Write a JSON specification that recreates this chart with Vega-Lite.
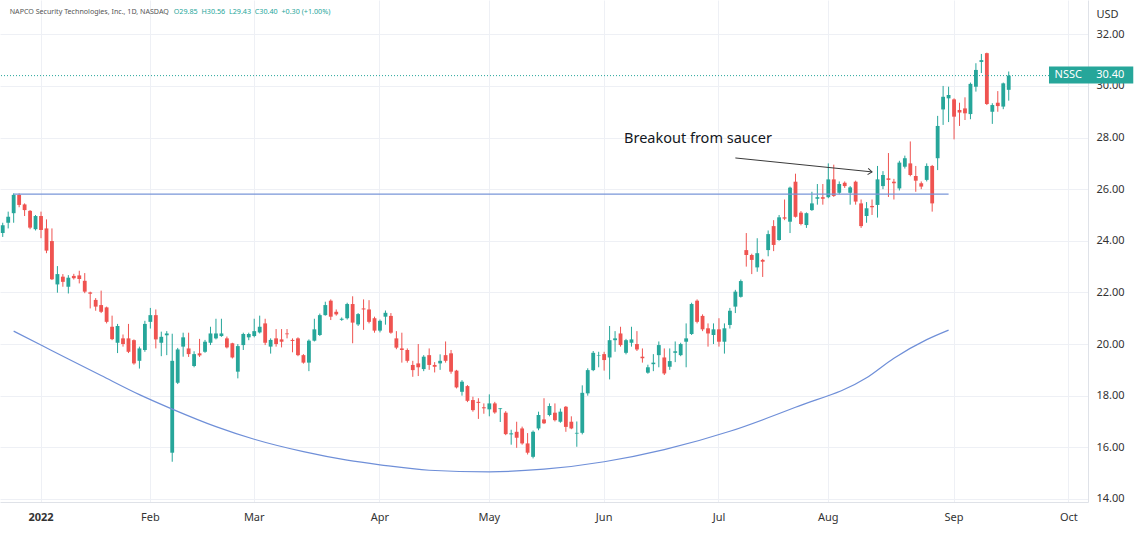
{
  "$schema": "https://vega.github.io/schema/vega-lite/v6.json",
  "width": 1088,
  "height": 502,
  "autosize": {"type": "none"},
  "padding": {"left": 0, "top": 0, "right": 51, "bottom": 32},
  "background": "white",
  "config": {"view": {"stroke": null}, "font": "Noto Sans"},
  "datasets": {
    "candles": [
      {"date":"2021-12-22","open":24.3,"high":24.7,"low":24.15,"close":24.6},
      {"date":"2021-12-23","open":24.7,"high":25.13,"low":24.48,"close":24.93},
      {"date":"2021-12-27","open":25.07,"high":25.84,"low":24.7,"close":25.78},
      {"date":"2021-12-28","open":25.78,"high":25.84,"low":25.3,"close":25.39},
      {"date":"2021-12-29","open":25.41,"high":25.45,"low":24.96,"close":25.19},
      {"date":"2021-12-30","open":25.16,"high":25.19,"low":24.45,"close":24.51},
      {"date":"2021-12-31","open":24.45,"high":25.0,"low":24.4,"close":24.96},
      {"date":"2022-01-03","open":24.96,"high":25.13,"low":24.1,"close":24.42},
      {"date":"2022-01-04","open":24.48,"high":24.83,"low":23.52,"close":23.62},
      {"date":"2022-01-05","open":23.99,"high":24.48,"low":22.48,"close":22.51},
      {"date":"2022-01-06","open":22.31,"high":23.02,"low":21.99,"close":22.71},
      {"date":"2022-01-07","open":22.61,"high":22.71,"low":22.22,"close":22.41},
      {"date":"2022-01-10","open":22.22,"high":22.67,"low":21.96,"close":22.57},
      {"date":"2022-01-11","open":22.64,"high":22.72,"low":22.5,"close":22.55},
      {"date":"2022-01-12","open":22.66,"high":22.84,"low":22.35,"close":22.52},
      {"date":"2022-01-13","open":22.45,"high":22.75,"low":21.97,"close":22.03},
      {"date":"2022-01-14","open":22.0,"high":22.03,"low":21.38,"close":21.95},
      {"date":"2022-01-18","open":21.71,"high":21.78,"low":21.29,"close":21.45},
      {"date":"2022-01-19","open":21.51,"high":22.07,"low":21.2,"close":21.25},
      {"date":"2022-01-20","open":21.42,"high":21.45,"low":20.8,"close":20.86},
      {"date":"2022-01-21","open":20.67,"high":21.1,"low":20.15,"close":20.19},
      {"date":"2022-01-24","open":20.05,"high":20.78,"low":19.65,"close":20.7},
      {"date":"2022-01-25","open":20.22,"high":20.37,"low":19.9,"close":20.0},
      {"date":"2022-01-26","open":20.22,"high":20.78,"low":19.65,"close":19.7},
      {"date":"2022-01-27","open":20.15,"high":20.18,"low":19.2,"close":19.25},
      {"date":"2022-01-28","open":19.35,"high":19.9,"low":19.05,"close":19.83},
      {"date":"2022-01-31","open":19.77,"high":20.9,"low":19.7,"close":20.78},
      {"date":"2022-02-01","open":20.86,"high":21.4,"low":20.6,"close":21.12},
      {"date":"2022-02-02","open":21.12,"high":21.34,"low":19.83,"close":20.18},
      {"date":"2022-02-03","open":20.05,"high":20.48,"low":19.53,"close":20.28},
      {"date":"2022-02-04","open":20.34,"high":20.5,"low":19.57,"close":20.41},
      {"date":"2022-02-07","open":15.79,"high":20.4,"low":15.44,"close":19.35},
      {"date":"2022-02-08","open":18.5,"high":19.85,"low":18.45,"close":19.79},
      {"date":"2022-02-09","open":19.9,"high":20.44,"low":19.51,"close":20.26},
      {"date":"2022-02-10","open":19.83,"high":20.44,"low":19.5,"close":19.61},
      {"date":"2022-02-11","open":19.15,"high":19.72,"low":19.1,"close":19.61},
      {"date":"2022-02-14","open":19.64,"high":20.2,"low":19.5,"close":19.56},
      {"date":"2022-02-15","open":19.7,"high":20.16,"low":19.66,"close":20.09},
      {"date":"2022-02-16","open":20.05,"high":20.67,"low":19.96,"close":20.41},
      {"date":"2022-02-17","open":20.22,"high":20.98,"low":20.18,"close":20.41},
      {"date":"2022-02-18","open":20.31,"high":20.98,"low":20.28,"close":20.41},
      {"date":"2022-02-22","open":20.22,"high":20.29,"low":19.83,"close":19.87},
      {"date":"2022-02-23","open":20.03,"high":20.05,"low":19.44,"close":19.48},
      {"date":"2022-02-24","open":18.93,"high":20.0,"low":18.67,"close":19.92},
      {"date":"2022-02-25","open":19.96,"high":20.44,"low":19.77,"close":20.39},
      {"date":"2022-02-28","open":20.26,"high":20.44,"low":20.15,"close":20.39},
      {"date":"2022-03-01","open":20.31,"high":20.98,"low":20.26,"close":20.5},
      {"date":"2022-03-02","open":20.45,"high":21.1,"low":20.41,"close":20.67},
      {"date":"2022-03-03","open":20.8,"high":20.98,"low":19.96,"close":20.05},
      {"date":"2022-03-04","open":19.9,"high":20.22,"low":19.63,"close":20.16},
      {"date":"2022-03-07","open":20.22,"high":20.58,"low":19.9,"close":20.0},
      {"date":"2022-03-08","open":20.18,"high":20.58,"low":19.87,"close":20.09},
      {"date":"2022-03-09","open":20.41,"high":20.58,"low":20.22,"close":20.38},
      {"date":"2022-03-10","open":20.16,"high":20.22,"low":19.68,"close":20.12},
      {"date":"2022-03-11","open":20.22,"high":20.26,"low":19.53,"close":19.57},
      {"date":"2022-03-14","open":19.57,"high":19.61,"low":19.24,"close":19.28},
      {"date":"2022-03-15","open":19.28,"high":20.18,"low":18.95,"close":20.13},
      {"date":"2022-03-16","open":20.13,"high":20.98,"low":20.1,"close":20.57},
      {"date":"2022-03-17","open":20.35,"high":21.18,"low":20.31,"close":21.12},
      {"date":"2022-03-18","open":21.12,"high":21.64,"low":21.1,"close":21.51},
      {"date":"2022-03-21","open":21.68,"high":21.73,"low":20.93,"close":21.06},
      {"date":"2022-03-22","open":21.25,"high":21.34,"low":21.1,"close":21.15},
      {"date":"2022-03-23","open":20.94,"high":21.03,"low":20.9,"close":20.98},
      {"date":"2022-03-24","open":21.0,"high":21.6,"low":20.95,"close":21.55},
      {"date":"2022-03-25","open":21.55,"high":21.85,"low":20.03,"close":20.83},
      {"date":"2022-03-28","open":20.76,"high":21.2,"low":20.7,"close":21.16},
      {"date":"2022-03-29","open":21.38,"high":21.73,"low":20.55,"close":21.34},
      {"date":"2022-03-30","open":21.34,"high":21.7,"low":20.8,"close":20.86},
      {"date":"2022-03-31","open":21.0,"high":21.06,"low":20.44,"close":20.52},
      {"date":"2022-04-01","open":20.52,"high":20.95,"low":20.45,"close":20.9},
      {"date":"2022-04-04","open":21.06,"high":21.3,"low":20.75,"close":21.21},
      {"date":"2022-04-05","open":21.09,"high":21.2,"low":20.4,"close":20.44},
      {"date":"2022-04-06","open":20.22,"high":20.5,"low":19.8,"close":19.86},
      {"date":"2022-04-07","open":19.83,"high":20.44,"low":19.28,"close":19.77},
      {"date":"2022-04-08","open":19.77,"high":19.83,"low":19.28,"close":19.35},
      {"date":"2022-04-11","open":19.19,"high":19.35,"low":18.73,"close":18.99},
      {"date":"2022-04-12","open":19.25,"high":20.0,"low":18.76,"close":19.1},
      {"date":"2022-04-13","open":19.03,"high":19.57,"low":18.95,"close":19.51},
      {"date":"2022-04-14","open":19.57,"high":19.83,"low":19.0,"close":19.19},
      {"date":"2022-04-18","open":19.19,"high":19.3,"low":18.9,"close":19.12},
      {"date":"2022-04-19","open":19.25,"high":19.6,"low":19.0,"close":19.35},
      {"date":"2022-04-20","open":19.57,"high":20.1,"low":19.28,"close":19.35},
      {"date":"2022-04-21","open":19.64,"high":19.77,"low":18.85,"close":18.93},
      {"date":"2022-04-22","open":18.97,"high":19.0,"low":18.28,"close":18.32},
      {"date":"2022-04-25","open":18.15,"high":18.6,"low":18.0,"close":18.54},
      {"date":"2022-04-26","open":18.37,"high":18.41,"low":17.75,"close":17.8},
      {"date":"2022-04-27","open":17.83,"high":17.96,"low":17.38,"close":17.44},
      {"date":"2022-04-28","open":17.76,"high":17.9,"low":17.1,"close":17.72},
      {"date":"2022-04-29","open":17.55,"high":17.7,"low":17.3,"close":17.51},
      {"date":"2022-05-02","open":17.47,"high":18.05,"low":17.2,"close":17.7},
      {"date":"2022-05-03","open":17.7,"high":17.76,"low":17.3,"close":17.35},
      {"date":"2022-05-04","open":17.48,"high":17.52,"low":16.98,"close":17.51},
      {"date":"2022-05-05","open":17.34,"high":17.4,"low":16.47,"close":16.51},
      {"date":"2022-05-06","open":16.5,"high":16.68,"low":16.1,"close":16.54},
      {"date":"2022-05-09","open":16.6,"high":16.99,"low":15.98,"close":16.37},
      {"date":"2022-05-10","open":16.73,"high":16.8,"low":16.1,"close":16.15},
      {"date":"2022-05-11","open":16.15,"high":16.55,"low":15.72,"close":15.79},
      {"date":"2022-05-12","open":15.63,"high":16.65,"low":15.57,"close":16.6},
      {"date":"2022-05-13","open":16.73,"high":17.38,"low":16.66,"close":17.25},
      {"date":"2022-05-16","open":17.08,"high":17.9,"low":16.9,"close":16.93},
      {"date":"2022-05-17","open":17.25,"high":17.7,"low":17.2,"close":17.6},
      {"date":"2022-05-18","open":17.34,"high":17.7,"low":17.0,"close":17.05},
      {"date":"2022-05-19","open":16.99,"high":17.5,"low":16.95,"close":17.38},
      {"date":"2022-05-20","open":17.57,"high":17.6,"low":16.6,"close":16.79},
      {"date":"2022-05-23","open":16.99,"high":17.2,"low":16.7,"close":16.73},
      {"date":"2022-05-24","open":16.53,"high":17.0,"low":16.02,"close":16.56},
      {"date":"2022-05-25","open":16.56,"high":18.4,"low":16.5,"close":18.11},
      {"date":"2022-05-26","open":18.09,"high":19.06,"low":18.0,"close":18.99},
      {"date":"2022-05-27","open":18.99,"high":19.73,"low":18.95,"close":19.66},
      {"date":"2022-05-31","open":19.55,"high":19.7,"low":19.1,"close":19.57},
      {"date":"2022-06-01","open":19.61,"high":19.7,"low":18.97,"close":19.38},
      {"date":"2022-06-02","open":19.48,"high":20.7,"low":18.63,"close":20.15},
      {"date":"2022-06-03","open":20.15,"high":20.5,"low":19.7,"close":20.22},
      {"date":"2022-06-06","open":20.41,"high":20.67,"low":19.9,"close":19.96},
      {"date":"2022-06-07","open":19.66,"high":20.2,"low":19.6,"close":20.15},
      {"date":"2022-06-08","open":20.05,"high":20.67,"low":19.9,"close":20.18},
      {"date":"2022-06-09","open":20.0,"high":20.5,"low":19.73,"close":19.79},
      {"date":"2022-06-10","open":19.51,"high":19.83,"low":19.28,"close":19.45},
      {"date":"2022-06-13","open":18.89,"high":19.2,"low":18.85,"close":19.1},
      {"date":"2022-06-14","open":19.22,"high":19.61,"low":18.95,"close":19.28},
      {"date":"2022-06-15","open":19.57,"high":20.1,"low":19.1,"close":19.96},
      {"date":"2022-06-16","open":19.48,"high":19.83,"low":18.8,"close":18.86},
      {"date":"2022-06-17","open":19.12,"high":19.83,"low":19.0,"close":19.34},
      {"date":"2022-06-21","open":19.66,"high":20.1,"low":19.3,"close":19.72},
      {"date":"2022-06-22","open":19.57,"high":20.05,"low":19.53,"close":20.0},
      {"date":"2022-06-23","open":20.09,"high":20.8,"low":19.1,"close":20.22},
      {"date":"2022-06-24","open":20.39,"high":21.6,"low":20.35,"close":21.55},
      {"date":"2022-06-27","open":21.68,"high":21.73,"low":20.8,"close":20.86},
      {"date":"2022-06-28","open":21.09,"high":21.15,"low":20.5,"close":20.57},
      {"date":"2022-06-29","open":20.61,"high":20.8,"low":19.9,"close":20.41},
      {"date":"2022-06-30","open":20.35,"high":20.8,"low":20.0,"close":20.57},
      {"date":"2022-07-01","open":20.57,"high":21.0,"low":19.9,"close":20.09},
      {"date":"2022-07-05","open":20.09,"high":20.8,"low":19.63,"close":20.61},
      {"date":"2022-07-06","open":20.74,"high":21.4,"low":20.6,"close":21.29},
      {"date":"2022-07-07","open":21.45,"high":22.1,"low":21.2,"close":22.03},
      {"date":"2022-07-08","open":21.83,"high":22.5,"low":21.8,"close":22.44},
      {"date":"2022-07-11","open":23.64,"high":24.3,"low":23.0,"close":23.45},
      {"date":"2022-07-12","open":23.45,"high":23.5,"low":22.71,"close":23.26},
      {"date":"2022-07-13","open":22.97,"high":24.1,"low":22.8,"close":23.52},
      {"date":"2022-07-14","open":23.26,"high":23.3,"low":22.6,"close":23.19},
      {"date":"2022-07-15","open":23.64,"high":24.4,"low":23.4,"close":24.26},
      {"date":"2022-07-18","open":24.57,"high":24.8,"low":23.6,"close":23.84},
      {"date":"2022-07-19","open":24.03,"high":25.0,"low":24.0,"close":24.91},
      {"date":"2022-07-20","open":24.91,"high":25.6,"low":24.8,"close":24.86},
      {"date":"2022-07-21","open":24.74,"high":26.1,"low":24.3,"close":26.06},
      {"date":"2022-07-22","open":26.29,"high":26.6,"low":24.9,"close":24.93},
      {"date":"2022-07-25","open":25.09,"high":25.15,"low":24.6,"close":24.65},
      {"date":"2022-07-26","open":24.61,"high":25.1,"low":24.5,"close":25.07},
      {"date":"2022-07-27","open":25.19,"high":25.9,"low":25.16,"close":25.45},
      {"date":"2022-07-28","open":25.63,"high":26.2,"low":25.4,"close":25.69},
      {"date":"2022-07-29","open":25.69,"high":26.2,"low":25.4,"close":25.63},
      {"date":"2022-08-01","open":25.69,"high":27.0,"low":25.65,"close":26.38},
      {"date":"2022-08-02","open":26.38,"high":26.95,"low":25.7,"close":25.74},
      {"date":"2022-08-03","open":25.86,"high":26.3,"low":25.8,"close":26.2},
      {"date":"2022-08-04","open":26.25,"high":26.3,"low":26.05,"close":26.12},
      {"date":"2022-08-05","open":25.86,"high":26.12,"low":25.4,"close":26.07},
      {"date":"2022-08-08","open":26.29,"high":26.33,"low":25.4,"close":25.52},
      {"date":"2022-08-09","open":25.45,"high":25.6,"low":24.5,"close":24.57},
      {"date":"2022-08-10","open":24.96,"high":25.5,"low":24.7,"close":25.26},
      {"date":"2022-08-11","open":25.35,"high":25.6,"low":25.0,"close":25.3},
      {"date":"2022-08-12","open":25.39,"high":26.9,"low":24.9,"close":26.38},
      {"date":"2022-08-15","open":26.12,"high":26.7,"low":26.0,"close":26.55},
      {"date":"2022-08-16","open":26.42,"high":27.4,"low":25.7,"close":26.36},
      {"date":"2022-08-17","open":26.29,"high":26.4,"low":25.6,"close":26.23},
      {"date":"2022-08-18","open":26.03,"high":27.1,"low":25.95,"close":27.03},
      {"date":"2022-08-19","open":26.87,"high":27.3,"low":26.8,"close":27.2},
      {"date":"2022-08-22","open":27.0,"high":27.85,"low":26.5,"close":26.55},
      {"date":"2022-08-23","open":26.51,"high":26.9,"low":25.9,"close":26.33},
      {"date":"2022-08-24","open":26.23,"high":26.3,"low":26.0,"close":26.1},
      {"date":"2022-08-25","open":26.36,"high":27.0,"low":26.3,"close":26.9},
      {"date":"2022-08-26","open":26.9,"high":26.94,"low":25.13,"close":25.45},
      {"date":"2022-08-29","open":27.2,"high":28.84,"low":26.74,"close":28.45},
      {"date":"2022-08-30","open":29.09,"high":30.0,"low":28.49,"close":29.58},
      {"date":"2022-08-31","open":29.52,"high":29.97,"low":28.6,"close":29.65},
      {"date":"2022-09-01","open":29.48,"high":29.52,"low":27.93,"close":28.81},
      {"date":"2022-09-02","open":29.07,"high":29.35,"low":28.45,"close":28.97},
      {"date":"2022-09-06","open":29.13,"high":29.56,"low":28.68,"close":28.94},
      {"date":"2022-09-07","open":28.91,"high":30.13,"low":28.71,"close":30.08},
      {"date":"2022-09-08","open":29.97,"high":30.88,"low":29.78,"close":30.62},
      {"date":"2022-09-09","open":30.93,"high":31.24,"low":30.5,"close":31.0},
      {"date":"2022-09-12","open":31.27,"high":31.29,"low":29.26,"close":29.3},
      {"date":"2022-09-13","open":29.0,"high":29.33,"low":28.53,"close":29.26},
      {"date":"2022-09-14","open":29.35,"high":29.8,"low":29.0,"close":29.22},
      {"date":"2022-09-15","open":29.2,"high":30.13,"low":29.1,"close":30.1},
      {"date":"2022-09-16","open":29.85,"high":30.56,"low":29.43,"close":30.4}
    ],
    "curve": [
      {"date":"2021-12-27","price":20.5},
      {"date":"2022-01-03","price":19.96},
      {"date":"2022-01-10","price":19.42},
      {"date":"2022-01-19","price":18.78},
      {"date":"2022-01-28","price":18.04},
      {"date":"2022-02-07","price":17.48},
      {"date":"2022-02-17","price":16.8},
      {"date":"2022-03-01","price":16.31},
      {"date":"2022-03-14","price":15.83},
      {"date":"2022-03-24","price":15.5},
      {"date":"2022-04-01","price":15.32},
      {"date":"2022-04-14","price":15.11},
      {"date":"2022-05-02","price":15.05},
      {"date":"2022-05-16","price":15.15},
      {"date":"2022-06-01","price":15.44},
      {"date":"2022-06-16","price":15.91},
      {"date":"2022-07-06","price":16.62},
      {"date":"2022-07-22","price":17.55},
      {"date":"2022-08-10","price":18.69},
      {"date":"2022-08-17","price":19.45},
      {"date":"2022-08-25","price":20.17},
      {"date":"2022-08-31","price":20.54}
    ],
    "level": [{"date":"2021-12-27","date2":"2022-08-31","price":25.81}],
    "last": [{"date":"2022-09-27","date2":"2022-10-06","price":30.4,"symbol":"NSSC","label":"30.40"}],
    "arrow": [{"date":"2022-07-07","date2":"2022-08-11","price":27.21,"price2":26.67}],
    "arrowhead": [{"date":"2022-08-11","price":26.67}],
    "note": [{"date":"2022-06-07","price":27.95,"text":"Breakout from saucer"}],
    "header": [{"date":"2021-12-22","price":32.85,"name":"NAPCO Security Technologies, Inc., 1D, NASDAQ","ohlc":"O29.85\u00a0 H30.56\u00a0 L29.43\u00a0 C30.40\u00a0 +0.30 (+1.00%)"}]
  },
  "layer": [
    {
      "data": {"name": "candles"},
      "mark": {"type": "rule", "strokeWidth": 1},
      "encoding": {
        "x": {
          "field": "date", "type": "ordinal",
          "scale": {"paddingInner": 0, "paddingOuter": 0, "domain": {"unionWith": ["2022-09-19","2022-09-20","2022-09-21","2022-09-22","2022-09-23","2022-09-26","2022-09-27","2022-09-28","2022-09-29","2022-09-30","2022-10-03","2022-10-04","2022-10-05","2022-10-06"]}},
          "axis": {
            "title": null,
            "values": ["2022-01-03","2022-02-01","2022-03-01","2022-04-01","2022-05-02","2022-06-01","2022-07-01","2022-08-01","2022-09-01","2022-10-03"],
            "labelExpr": "datum.value == '2022-01-03' ? '2022' : utcFormat(toDate(datum.value), '%b')",
            "labelAngle": 0, "labelFontSize": 11, "labelColor": "#333333", "labelPadding": 9,
            "labelFontWeight": {"condition": {"test": "datum.value == '2022-01-03'", "value": "bold"}, "value": "normal"},
            "labelOverlap": false,
            "ticks": false, "grid": true, "gridColor": "#eef0f5", "domainColor": "#dfe2e8"
          }
        },
        "y": {
          "field": "low", "type": "quantitative",
          "scale": {"domain": [13.88, 33.33], "nice": false, "zero": false},
          "axis": {
            "orient": "right", "title": "USD", "titleAngle": 0, "titleAlign": "left", "titleBaseline": "middle",
            "titleX": 8, "titleY": 14, "titleFontSize": 11, "titleFontWeight": "normal", "titleColor": "#333333",
            "values": [14,16,18,20,22,24,26,28,30,32], "format": ".2f",
            "labelFontSize": 11, "labelColor": "#333333", "labelPadding": 8,
            "ticks": false, "grid": true, "gridColor": "#eef0f5", "domainColor": "#dfe2e8"
          }
        },
        "y2": {"field": "high"},
        "color": {"condition": {"test": "datum.close >= datum.open", "value": "#26a69a"}, "value": "#ef5350"}
      }
    },
    {
      "data": {"name": "candles"},
      "mark": {"type": "bar", "width": {"band": 0.7}},
      "encoding": {
        "x": {"field": "date", "type": "ordinal"},
        "y": {"field": "open", "type": "quantitative"},
        "y2": {"field": "close"},
        "color": {"condition": {"test": "datum.close >= datum.open", "value": "#26a69a"}, "value": "#ef5350"}
      }
    },
    {
      "data": {"name": "level"},
      "mark": {"type": "rule", "color": "#7896d8", "strokeWidth": 1.2},
      "encoding": {
        "x": {"field": "date", "type": "ordinal"},
        "x2": {"field": "date2"},
        "y": {"field": "price", "type": "quantitative"}
      }
    },
    {
      "data": {"name": "curve"},
      "mark": {"type": "line", "color": "#6f8fd8", "strokeWidth": 1.2, "interpolate": "monotone"},
      "encoding": {
        "x": {"field": "date", "type": "ordinal"},
        "y": {"field": "price", "type": "quantitative"}
      }
    },
    {
      "data": {"name": "last"},
      "mark": {"type": "rule", "color": "#26a69a", "strokeWidth": 1, "strokeDash": [1, 2]},
      "encoding": {
        "y": {"field": "price", "type": "quantitative"}
      }
    },
    {
      "data": {"name": "arrow"},
      "mark": {"type": "rule", "color": "#3a3a3a", "strokeWidth": 1},
      "encoding": {
        "x": {"field": "date", "type": "ordinal"},
        "x2": {"field": "date2"},
        "y": {"field": "price", "type": "quantitative"},
        "y2": {"field": "price2"}
      }
    },
    {
      "data": {"name": "arrowhead"},
      "mark": {"type": "point", "shape": "M -1 -0.75 L 0 0 L -1 0.75", "filled": false, "stroke": "#3a3a3a", "strokeWidth": 1, "size": 70, "angle": 6, "opacity": 1},
      "encoding": {
        "x": {"field": "date", "type": "ordinal"},
        "y": {"field": "price", "type": "quantitative"}
      }
    },
    {
      "data": {"name": "note"},
      "mark": {"type": "text", "align": "left", "baseline": "middle", "fontSize": 14.5, "color": "#131722", "dx": -2},
      "encoding": {
        "x": {"field": "date", "type": "ordinal"},
        "y": {"field": "price", "type": "quantitative"},
        "text": {"field": "text"}
      }
    },
    {
      "data": {"name": "last"},
      "mark": {"type": "rect", "color": "#26a69a", "xOffset": 2, "x2Offset": 48, "yOffset": -9, "y2Offset": 8},
      "encoding": {
        "x": {"field": "date", "type": "ordinal"},
        "x2": {"field": "date2"},
        "y": {"field": "price", "type": "quantitative"},
        "y2": {"field": "price"}
      }
    },
    {
      "data": {"name": "last"},
      "mark": {"type": "text", "align": "center", "baseline": "middle", "fontSize": 11, "color": "white", "dx": -17, "dy": -0.5},
      "encoding": {
        "x": {"field": "date2", "type": "ordinal"},
        "y": {"field": "price", "type": "quantitative"},
        "text": {"field": "symbol"}
      }
    },
    {
      "data": {"name": "last"},
      "mark": {"type": "text", "align": "center", "baseline": "middle", "fontSize": 11, "color": "white", "dx": 25, "dy": -0.5},
      "encoding": {
        "x": {"field": "date2", "type": "ordinal"},
        "y": {"field": "price", "type": "quantitative"},
        "text": {"field": "label"}
      }
    },
    {
      "data": {"name": "header"},
      "mark": {"type": "text", "align": "left", "baseline": "middle", "fontSize": 7.1, "color": "#555555", "dx": 7},
      "encoding": {
        "x": {"field": "date", "type": "ordinal"},
        "y": {"field": "price", "type": "quantitative"},
        "text": {"field": "name"}
      }
    },
    {
      "data": {"name": "header"},
      "mark": {"type": "text", "align": "left", "baseline": "middle", "fontSize": 7.2, "color": "#26a69a", "dx": 171},
      "encoding": {
        "x": {"field": "date", "type": "ordinal"},
        "y": {"field": "price", "type": "quantitative"},
        "text": {"field": "ohlc"}
      }
    }
  ]
}
